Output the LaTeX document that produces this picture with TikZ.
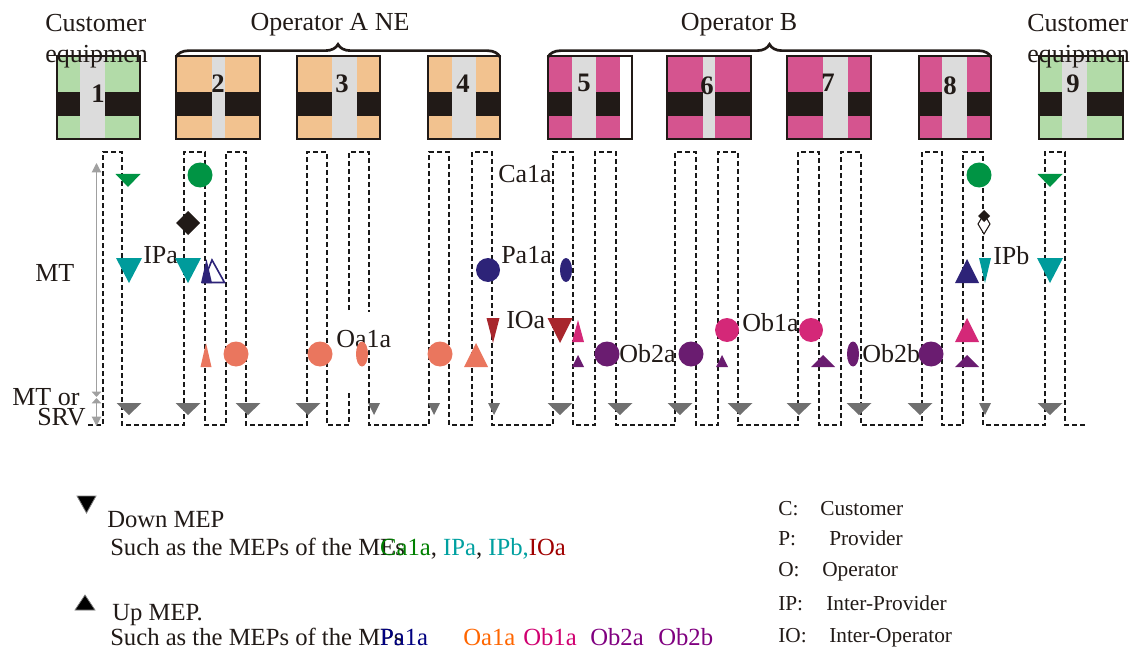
\documentclass[tikz,border=0pt]{standalone}
\usepackage{fontspec}
\setmainfont{Liberation Serif}
\usetikzlibrary{arrows.meta,decorations.pathreplacing}

\definecolor{custgreen}{RGB}{178,219,168}
\definecolor{opaorange}{RGB}{242,194,143}
\definecolor{opbpink}{RGB}{213,84,143}
\definecolor{stripegray}{RGB}{220,220,220}
\definecolor{bandblack}{RGB}{33,26,23}
\definecolor{megreen}{RGB}{0,148,68}
\definecolor{meteal}{RGB}{0,155,155}
\definecolor{menavy}{RGB}{45,35,120}
\definecolor{mesalmon}{RGB}{234,118,94}
\definecolor{mered}{RGB}{168,38,44}
\definecolor{memagenta}{RGB}{212,40,120}
\definecolor{mepurple}{RGB}{106,28,112}
\definecolor{megray}{RGB}{112,112,112}
\definecolor{axisgray}{RGB}{160,160,160}
\definecolor{txtgreen}{RGB}{0,128,0}
\definecolor{txtteal}{RGB}{0,160,160}
\definecolor{txtred}{RGB}{160,0,0}
\definecolor{txtnavy}{RGB}{0,0,128}
\definecolor{txtorange}{RGB}{255,102,0}
\definecolor{txtmagenta}{RGB}{208,0,112}
\definecolor{txtpurple}{RGB}{128,0,128}

% network element box: x left, x right, stripe left, stripe right, fill, number x, number baseline, number
\newcommand{\nebox}[8]{%
  \fill[#5] (#1,56) rectangle (#2,139);
  \fill[bandblack] (#1,92) rectangle (#2,116);
  \fill[stripegray] (#3,56) rectangle (#4,139);
  \draw[boxline] (#1,56) rectangle (#2,139);
  \node[numlabel] (ne#8) at (#6,#7) {#8};
}
% MEP triangle: colour, x, half width, base y, tip y
\newcommand{\mep}[5]{\fill[#1] (#2-#3,#4) -- (#2+#3,#4) -- (#2,#5) -- cycle;}

\begin{document}
\begin{tikzpicture}[x=0.75pt,y=-0.75pt,
  boxline/.style={draw=bandblack,line width=1.2pt},
  numlabel/.style={anchor=base,inner sep=0pt,font=\fontsize{20}{22}\selectfont\bfseries,text=bandblack},
  headlabel/.style={anchor=base west,inner sep=0pt,font=\fontsize{19.5}{22}\selectfont,text=bandblack},
  melabel/.style={anchor=base west,inner sep=0pt,font=\fontsize{19.5}{22}\selectfont,text=bandblack},
  legtxt/.style={anchor=base west,inner sep=0pt,font=\fontsize{18.5}{21}\selectfont,text=bandblack},
  keytxt/.style={anchor=base west,inner sep=0pt,font=\fontsize{16}{18}\selectfont,text=bandblack},
  meline/.style={dash pattern=on 3.5pt off 2.5pt,line width=0.85pt,black!90},
  axisline/.style={axisgray,line width=0.8pt},
  outtip/.tip={Triangle[width=7pt,length=7pt]},
  intip/.tip={Triangle[width=7pt,length=4pt]},
  opbrace/.style={decorate,decoration={brace,amplitude=9.5pt},line width=2pt,bandblack}]
\useasboundingbox (0,0) rectangle (1138,649);

% network elements
\nebox{57}{140}{80}{105}{custgreen}{98}{103}{1}
\nebox{176}{260}{212}{225}{opaorange}{218}{93}{2}
\nebox{297}{380}{332}{357}{opaorange}{342}{93}{3}
\nebox{428}{500}{452}{476}{opaorange}{463}{93}{4}
\nebox{548}{632}{572}{596}{opbpink}{584}{92}{5}
\fill[white] (620,56.8) rectangle (631.2,138.2);
\nebox{667}{751}{703}{715}{opbpink}{707}{95}{6}
\nebox{787}{871}{823}{848}{opbpink}{828}{92}{7}
\nebox{919}{991}{942}{967}{opbpink}{950}{95}{8}
\nebox{1039}{1123}{1062}{1087}{custgreen}{1073}{93}{9}

\draw[opbrace] (176,57) -- (500,57);
\draw[opbrace] (548,57) -- (991,57);

% headings
\node[headlabel] (custl1) at (45,32) {Customer};
\node[headlabel] (custl2) at (45,63) {equipmen};
\node[headlabel] (custr1) at (1027,32) {Customer};
\node[headlabel] (custr2) at (1027,63) {equipmen};
\node[headlabel,anchor=base] (opa) at (330,31) {Operator A NE};
\node[headlabel,anchor=base] (opb) at (739,31) {Operator B};

% maintenance path
\draw[meline] (88,425)
  \foreach \xa/\xb in {103/122,184/205,226/246,307/327,349/369,429/449,472/492,553/573,
                        595/616,675/696,718/738,798/819,841/861,922/942,963/983,1045/1065}
  { -- (\xa,425) -- (\xa,152) -- (\xb,152) -- (\xb,425) } -- (1087,425);

% level axis
\coordinate (mttop) at (96.5,163);
\coordinate (mtlow) at (96.5,397);
\coordinate (srvtop) at (96.5,398);
\coordinate (srvlow) at (96.5,426);
\draw[axisline,{outtip}-{intip}] (mttop) -- (mtlow);
\draw[axisline,{intip}-{outtip}] (srvtop) -- (srvlow);
\node[headlabel] (mt) at (35,281) {MT};
\node[headlabel] (mtor) at (12,405) {MT or};
\node[headlabel] (srv) at (37,425) {SRV};

% labels of the MEs
\node[melabel] (ipa) at (143,263) {IPa};
\node[melabel] (ca1a) at (498,183) {Ca1a};
\node[melabel] (pa1a) at (501,263) {Pa1a};
\node[melabel] (ioa) at (506,328) {IOa};
\fill[white] (344,312) rectangle (373,350) (344,350) rectangle (354,390);
\node[melabel] (oa1a) at (336,347) {Oa1a};
\node[melabel] (ob2a) at (619,362) {Ob2a};
\node[melabel] (ob1a) at (742,331) {Ob1a};
\node[melabel] (ob2b) at (862,362) {Ob2b};
\node[melabel] (ipb) at (993,264) {IPb};

% customer level
\mep{megreen}{128}{12.5}{174}{187}
\fill[megreen] (200,175) circle (12.5);
\fill[megreen] (979,175) circle (12.5);
\mep{megreen}{1050}{12.5}{174}{187}
\fill[bandblack] (188,211) -- (200,223) -- (188,235) -- (176,223) -- cycle;
\filldraw[fill=white,draw=bandblack,line width=0.8pt] (984,214) -- (990,224) -- (984,234) -- (978,224) -- cycle;
\fill[bandblack] (984,210) -- (990,216) -- (984,222) -- (978,216) -- cycle;

% provider level
\mep{meteal}{129}{13}{258}{283}
\mep{meteal}{188}{13}{258}{283}
\filldraw[fill=white,draw=menavy,line width=1.2pt] (212,260) -- (224.5,282.5) -- (203,282.5) -- cycle;
\mep{menavy}{206.5}{5.5}{283}{259}
\fill[menavy] (488,270) circle (12);
\fill[menavy] (566,270) ellipse (6 and 12);
\mep{menavy}{967}{12}{283}{259}
\mep{meteal}{985}{6}{258}{283}
\mep{meteal}{1050}{13}{258}{283}

% inter operator level
\mep{mered}{493}{6.5}{318}{343}
\mep{mered}{560}{12.5}{318}{343}
\mep{memagenta}{578}{6}{342}{320}
\fill[memagenta] (727,330) circle (12);
\fill[memagenta] (811,330) circle (12);
\mep{memagenta}{967}{12}{342}{318}

% operator level
\mep{mesalmon}{206}{5.5}{367}{343}
\foreach \cx in {236,320,440} {\fill[mesalmon] (\cx,354) circle (12.5);}
\fill[mesalmon] (362,354) ellipse (6 and 12.5);
\mep{mesalmon}{476}{12}{367}{343}
\mep{mepurple}{578}{6}{367}{355}
\foreach \cx in {607,691,931} {\fill[mepurple] (\cx,354) circle (12.5);}
\mep{mepurple}{722}{6}{367}{355}
\mep{mepurple}{823}{12}{367}{355}
\fill[mepurple] (853,354) ellipse (6 and 12.5);
\mep{mepurple}{967}{12}{367}{355}

% MT or SRV level
\foreach \cx in {129,188,248,308,560,620,680,740,799,859,920,1050} {\mep{megray}{\cx}{12.5}{403}{415}}
\foreach \cx in {374,434,494,985} {\mep{megray}{\cx}{6}{403}{415}}

% legend
\filldraw[fill=black,draw=gray,line width=0.6pt] (77,496) -- (96,496) -- (86.5,513) -- cycle;
\node[legtxt] (ldown) at (107,527) {Down MEP};
\node[legtxt] (ldownex) at (110,555) {Such as the MEPs of the M\rlap{Es}\textcolor{txtgreen}{Ca1a}, \textcolor{txtteal}{IPa}, \textcolor{txtteal}{IPb,}\textcolor{txtred}{IOa}};
\filldraw[fill=black,draw=gray,line width=0.6pt] (75,610) -- (95,610) -- (85,595) -- cycle;
\node[legtxt] (lup) at (112,620) {Up MEP.};
\node[legtxt] (lupex) at (110,645) {Such as the MEPs of the M\rlap{Ps}\textcolor{txtnavy}{Pa1a}};
\node[legtxt,text=txtorange] (loa1a) at (463,645) {Oa1a};
\node[legtxt,text=txtmagenta] (lob1a) at (523,645) {Ob1a};
\node[legtxt,text=txtpurple] (lob2a) at (590,645) {Ob2a};
\node[legtxt,text=txtpurple] (lob2b) at (658,645) {Ob2b};

\foreach \ab/\full/\yb/\xt [count=\i] in {C:/Customer/515/820,P:/Provider/545/829,O:/Operator/576/822,
                                          IP:/Inter-Provider/610/826,IO:/Inter-Operator/642/829}
{
  \node[keytxt] (key\i) at (778,\yb) {\ab};
  \node[keytxt] (keytxt\i) at (\xt,\yb) {\full};
}
\end{tikzpicture}
\end{document}
